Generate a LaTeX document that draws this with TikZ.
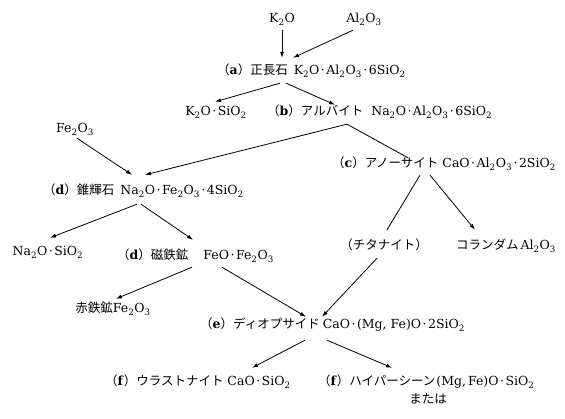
\documentclass[tikz,border=0pt]{standalone}
\usepackage{fontspec}
\setmainfont{DejaVu Serif}
\newfontfamily\jp[Scale=1.0]{Noto Sans CJK JP}
\usetikzlibrary{arrows.meta,calc}
\newcommand{\sbt}[1]{\textsubscript{#1}}
\newcommand{\cdt}{\kern1.5pt·\kern1.5pt}
% full-width bracketed step letter; the leading kern removes the blank half of the bracket
\newcommand{\steplbl}[1]{{\jp\kern-0.4em（}\textbf{#1}{\jp ）}}
\newcommand{\ja}[1]{{\jp #1}}
\begin{document}
\begin{tikzpicture}[x=1pt,y=-1pt,
  lbl/.style={inner sep=0pt,text height=9pt,text depth=3pt,font=\fontsize{12.5}{14}\selectfont},
  arr/.style={line width=0.8pt,-{Latex[length=6pt,width=4pt]}},
  ln/.style={line width=0.8pt}]
\useasboundingbox (0,0) rectangle (565,419);

% minerals and oxides
\node[lbl] (k2o) at (282,20) {K\sbt{2}O};
\node[lbl] (al2o3) at (364,20) {Al\sbt{2}O\sbt{3}};
\node[lbl,anchor=west] (ortho) at (222,72) {\steplbl{a}\ja{正長石}\hspace{6pt}K\sbt{2}O\cdt Al\sbt{2}O\sbt{3}\cdt 6SiO\sbt{2}};
\node[lbl] (k2osio) at (216,113) {K\sbt{2}O\cdt SiO\sbt{2}};
\node[lbl,anchor=west] (albite) at (272,113) {\steplbl{b}\ja{アルバイト}\hspace{8pt}Na\sbt{2}O\cdt Al\sbt{2}O\sbt{3}\cdt 6SiO\sbt{2}};
\node[lbl] (fe2o3) at (75,130) {Fe\sbt{2}O\sbt{3}};
\node[lbl,anchor=west] (anorth) at (337,165) {\steplbl{c}\ja{アノーサイト}\hspace{4pt}CaO\cdt Al\sbt{2}O\sbt{3}\cdt 2SiO\sbt{2}};
\node[lbl,anchor=west] (aegir) at (48,192) {\steplbl{d}\ja{錐輝石}\hspace{6pt}Na\sbt{2}O\cdt Fe\sbt{2}O\sbt{3}\cdt 4SiO\sbt{2}};
\node[lbl] (naso) at (48,253) {Na\sbt{2}O\cdt SiO\sbt{2}};
\node[lbl,anchor=west] (magn) at (122,257) {\steplbl{d}\ja{磁鉄鉱}\hspace{15pt}FeO\cdt Fe\sbt{2}O\sbt{3}};
\node[lbl] (titan) at (384,247) {\ja{（チタナイト）}};
\node[lbl] (corund) at (506,247) {\ja{コランダム}\hspace{2pt}Al\sbt{2}O\sbt{3}};
\node[lbl] (hemat) at (113,310) {\ja{赤鉄鉱}Fe\sbt{2}O\sbt{3}};
\node[lbl,anchor=west] (diops) at (205,326) {\steplbl{e}\ja{ディオプサイド}\hspace{3pt}CaO\cdt(Mg, Fe)O\cdt 2SiO\sbt{2}};
\node[lbl,anchor=west] (wollast) at (110,383) {\steplbl{f}\ja{ウラストナイト}\hspace{4pt}CaO\cdt SiO\sbt{2}};
\node[lbl,anchor=west] (hypers) at (323,383) {\steplbl{f}\ja{ハイパーシーン}\hspace{1pt}(Mg,\hspace{2pt}Fe)O\cdt SiO\sbt{2}};
\node[lbl] (mataha) at (428,400) {\ja{または}};

% reaction paths
\draw[arr] ($(k2o.south)+(0,4)$) -- ($(ortho.north west)+(60,-8)$);
\draw[arr] ($(al2o3.south)+(-11,4)$) -- ($(ortho.north west)+(71,-8)$);
\draw[arr] ($(ortho.south west)+(58,5)$) -- ($(k2osio.north)+(-1,-5)$);
\draw[arr] ($(ortho.south west)+(64,5)$) -- ($(albite.north west)+(63,-2)$);
\draw[arr] ($(albite.south west)+(75,5)$) -- ($(aegir.north west)+(97,-11)$);
\draw[ln] ($(albite.south west)+(75,5)$) -- ($(anorth.north west)+(71,-1)$);
\draw[arr] ($(fe2o3.south)+(2,2)$) -- ($(aegir.north west)+(84,-11)$);
\draw[arr] ($(aegir.south west)+(89,6)$) -- ($(naso.north)+(2,-9)$);
\draw[arr] ($(aegir.south west)+(93,6)$) -- ($(magn.north west)+(71,-11)$);
\draw[ln] ($(anorth.south west)+(83,4)$) -- ($(titan.north)+(3,-11)$);
\draw[arr] ($(anorth.south west)+(93,4)$) -- ($(corund.north)+(-31,-11)$);
\draw[arr] ($(titan.south)+(-7,5)$) -- ($(diops.north west)+(117,-3)$);
\draw[arr] ($(magn.south west)+(70,4)$) -- ($(hemat.north)+(3,-5)$);
\draw[arr] ($(magn.south west)+(100,4)$) -- ($(diops.north west)+(101,-3)$);
\draw[arr] ($(diops.south west)+(100,8)$) -- ($(wollast.north west)+(142,-9)$);
\draw[arr] ($(diops.south west)+(122,8)$) -- ($(hypers.north west)+(69,-9)$);
\end{tikzpicture}
\end{document}
